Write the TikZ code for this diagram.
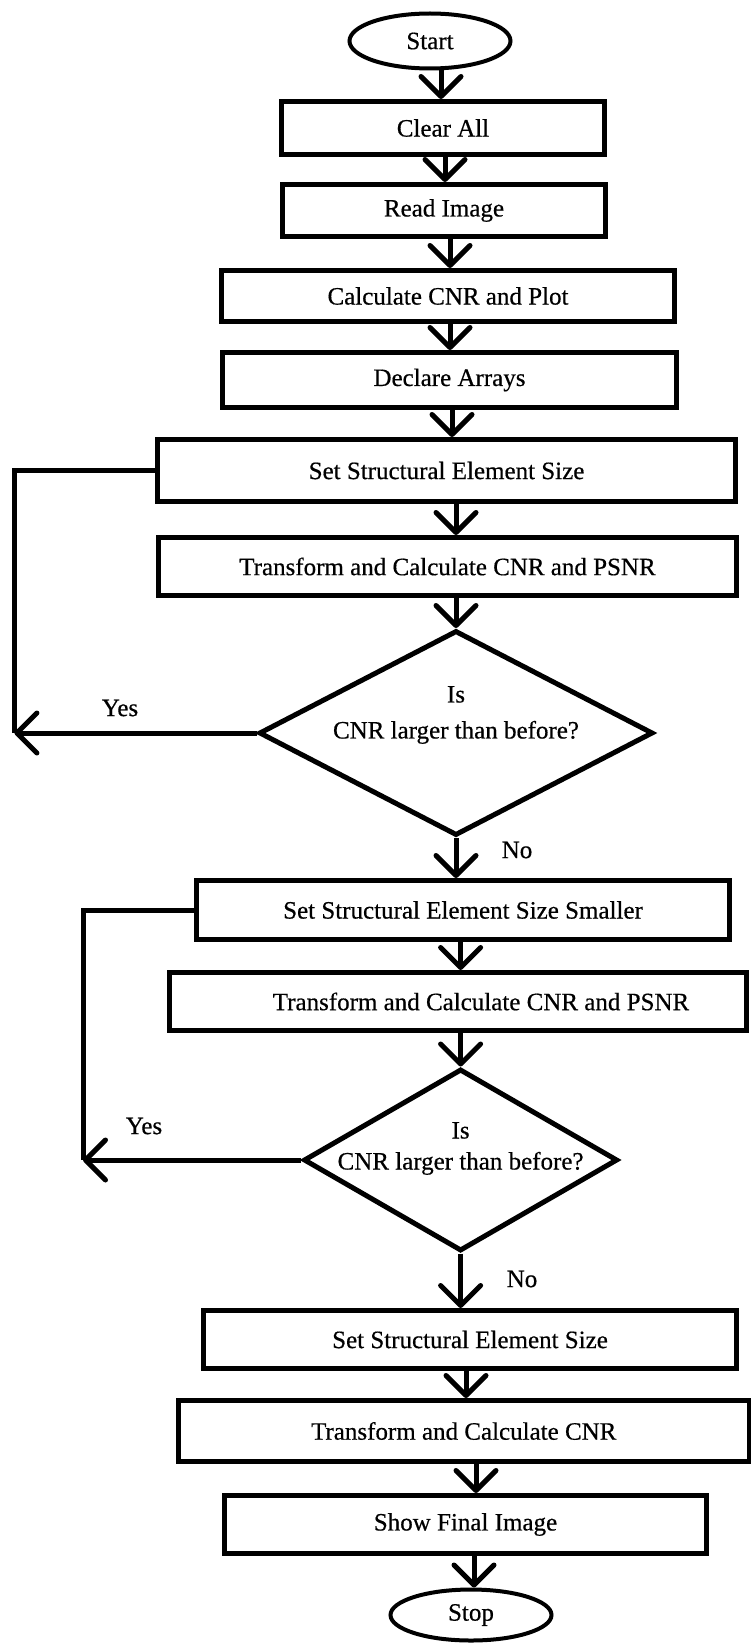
\documentclass[tikz,border=0pt]{standalone}
\usepackage{fontspec}
\setmainfont{Liberation Serif}[FakeBold=0.5]
\usetikzlibrary{shapes.geometric,arrows.meta}
\begin{document}
\begin{tikzpicture}[x=1pt,y=-1pt,
  every node/.style={font=\fontsize{25}{36}\selectfont},
  box/.style={draw, line width=5pt, rectangle, inner sep=0pt},
  term/.style={draw, line width=4pt, ellipse, inner sep=0pt},
  dia/.style={draw, line width=5pt, diamond, inner sep=0pt},
  conn/.style={line width=5pt},
  arr/.style={line width=5pt, -{Straight Barb[length=20pt,width=40pt,round]}},
  lbl/.style={inner sep=0pt}
]
\useasboundingbox (0,0) rectangle (750,1648);
% nodes
\node[term, minimum width=161pt, minimum height=55pt] (start) at (430,41) {Start};
\node[box, minimum width=323pt, minimum height=53pt] (clear) at (443,128) {Clear All};
\node[box, minimum width=323pt, minimum height=52pt] (read) at (444,210.5) {Read Image};
\node[box, minimum width=453pt, minimum height=51pt] (calc) at (448,296) {Calculate CNR and Plot};
\node[box, minimum width=454pt, minimum height=55pt] (decl) at (449.5,380) {Declare Arrays};
\node[box, minimum width=578pt, minimum height=62pt] (set1) at (446.5,470.5) {Set Structural Element Size};
\node[box, minimum width=578pt, minimum height=58pt] (tr1) at (447.5,566.5) {Transform and Calculate CNR and PSNR};
\node[dia, minimum width=394pt, minimum height=205pt] (d1) at (456,733) {};
\node[lbl, align=center] (d1t) at (456,715) {Is\\CNR larger than before?};
\node[box, minimum width=533pt, minimum height=59pt] (sm) at (463,910) {Set Structural Element Size Smaller};
\node[box, minimum width=577pt, minimum height=58pt] (tr2) at (458,1001.5) {\hspace*{46pt}Transform and Calculate CNR and PSNR};
\node[dia, minimum width=314pt, minimum height=182pt] (d2) at (460.6,1160) {};
\node[lbl, align=center] (d2t) at (460.6,1148.5) {Is\\[-5pt]CNR larger than before?};
\node[box, minimum width=533pt, minimum height=58pt] (set3) at (470,1339.5) {Set Structural Element Size};
\node[box, minimum width=571pt, minimum height=61pt] (tr3) at (463.75,1431) {Transform and Calculate CNR};
\node[box, minimum width=482pt, minimum height=58pt] (show) at (465.5,1524.5) {Show Final Image};
\node[term, minimum width=161pt, minimum height=51pt] (stop) at (471,1615) {Stop};
% labels
\node[lbl] (yes1) at (120,708) {Yes};
\node[lbl] (no1) at (517,850) {No};
\node[lbl] (yes2) at (144,1126) {Yes};
\node[lbl] (no2) at (522,1279) {No};
% loop corners
\coordinate (l1) at (14.4,733);
\coordinate (l2) at (83,1160);
% connectors
\draw[arr] (start.south -| 441,0) -- (clear.north -| 441,0);
\draw[arr] (clear.south -| 445,0) -- (read.north -| 445,0);
\draw[arr] (read.south -| 450,0) -- (calc.north -| 450,0);
\draw[arr] (calc.south -| 450,0) -- (decl.north -| 450,0);
\draw[arr] (decl.south -| 452,0) -- (set1.north -| 452,0);
\draw[arr] (set1.south -| 456,0) -- (tr1.north -| 456,0);
\draw[arr] (tr1.south -| 456,0) -- (d1.north);
\draw[arr] (d1.south) -- (sm.north -| d1.south);
\draw[arr] (sm.south -| 460.6,0) -- (tr2.north -| 460.6,0);
\draw[arr] (tr2.south -| 460.6,0) -- (d2.north);
\draw[arr] (d2.south) -- (set3.north -| d2.south);
\draw[arr] (set3.south -| 466,0) -- (tr3.north -| 466,0);
\draw[arr] (tr3.south -| 476,0) -- (show.north -| 476,0);
\draw[arr] (show.south -| 474,0) -- (stop.north -| 474,0);
% loops
\draw[conn] (set1.west) -| (l1);
\draw[arr] (d1.west) -- (l1);
\draw[conn] (sm.west) -| (l2);
\draw[arr] (d2.west) -- (l2);
\end{tikzpicture}
\end{document}
